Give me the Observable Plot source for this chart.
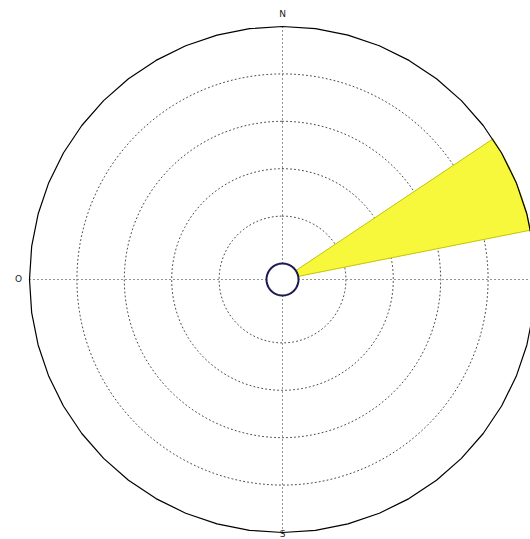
<!DOCTYPE html>
<html>
<head>
<meta charset="utf-8">
<script src="https://cdn.jsdelivr.net/npm/d3@7"></script>
<script src="https://cdn.jsdelivr.net/npm/@observablehq/plot@0.6"></script>
<style>
  body { margin: 0; background: #fff; }
  #chart svg { display: block; }
</style>
</head>
<body>
<div id="chart"></div>
<script>
// ---- data ----
const sectors = ["N","NNE","NE","ENE","E","ESE","SE","SSE","S","SSW","SW","WSW","W","WNW","NW","NNW"];
const sectorValues = [0,0,0,5,0,0,0,0,0,0,0,0,0,0,0,0];
const ringLevels = [1, 2, 3, 4];
const maxLevel = 5;
const compassLabels = ["N", "O", "S"];
const compassBearings = [0, 270, 180];

// ---- geometry helpers (pixel units, centre at origin) ----
const hole = 16, outerR = 253;
const rad = v => hole + v * (outerR - hole) / maxLevel;
const pt = (bearing, r) => {
  const a = bearing * Math.PI / 180;
  return {x: r * Math.sin(a), y: r * Math.cos(a)};
};
const circle = (r, n = 180) => d3.range(n + 1).map(i => pt(i * 360 / n, r));

const step = 360 / sectors.length;
const wedges = [];
sectors.forEach((s, i) => {
  const v = sectorValues[i];
  if (!v) return;
  const b0 = i * step - step / 2, b1 = i * step + step / 2;
  const poly = [];
  for (let k = 0; k <= 40; k++) poly.push({...pt(b0 + (b1 - b0) * k / 40, rad(v)), s});
  for (let k = 40; k >= 0; k--) poly.push({...pt(b0 + (b1 - b0) * k / 40, hole), s});
  poly.push(poly[0]);
  wedges.push(...poly);
});

const rings = ringLevels.flatMap(l => circle(rad(l)).map(p => ({...p, l})));
const spokes = [0, 90, 180, 270].flatMap(b => [{...pt(b, hole), b}, {...pt(b, outerR), b}]);
const labelR = [265, 264, 255];
const labels = compassLabels.map((t, i) => ({t, ...pt(compassBearings[i], labelR[i])}));

const chart = Plot.plot({
  width: 530,
  height: 539,
  margin: 0,
  x: {domain: [-282, 248], axis: null},
  y: {domain: [-260, 279], axis: null},
  marks: [
    Plot.line(rings, {x: "x", y: "y", z: "l", stroke: "#333", strokeWidth: 0.9, strokeDasharray: "1,3"}),
    Plot.line(spokes, {x: "x", y: "y", z: "b", stroke: "#777", strokeWidth: 0.9, strokeDasharray: "1,3"}),
    Plot.line(wedges, {x: "x", y: "y", z: "s", fill: "#f7f73c", stroke: "#c4c400", strokeWidth: 1, curve: "linear"}),
    Plot.line(circle(outerR, 48), {x: "x", y: "y", stroke: "#000", strokeWidth: 1.2}),
    Plot.line(circle(hole, 90), {x: "x", y: "y", fill: "#fff", stroke: "#1c1a4e", strokeWidth: 2}),
    Plot.text(labels, {x: "x", y: "y", text: "t", fontSize: 9, fill: "#222", fontFamily: "DejaVu Sans"})
  ]
});
document.getElementById("chart").append(chart);
</script>
</body>
</html>
